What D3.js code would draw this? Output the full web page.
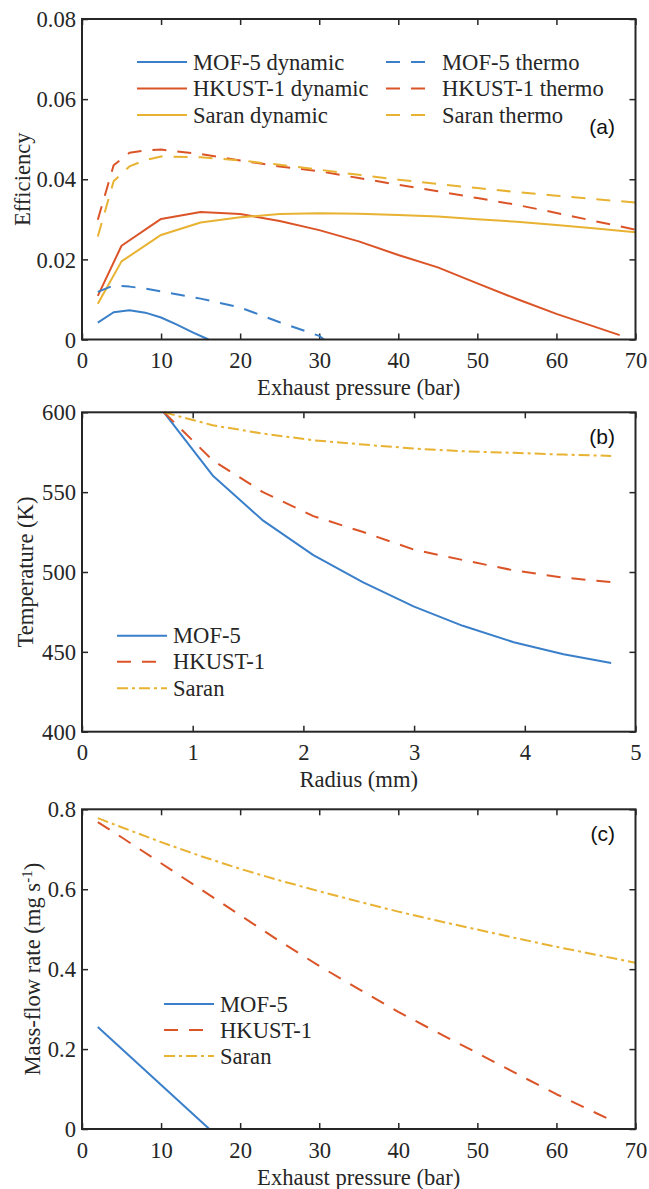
<!DOCTYPE html>
<html>
<head>
<meta charset="utf-8">
<script src="https://cdn.jsdelivr.net/npm/d3@7"></script>
<style>
  html, body { margin: 0; padding: 0; background: #fff; }
  svg { display: block; }
</style>
</head>
<body>
<svg id="fig" width="649" height="1189"></svg>
<script>
// ---- (a) efficiency vs exhaust pressure ----
const mofDynP   = [2, 4, 6, 8, 10, 12, 14, 16];
const mofDynEff = [0.0042, 0.0068, 0.0073, 0.0067, 0.0055, 0.0037, 0.0018, 0.0000];

const mofThermoP   = [2, 4, 6, 8, 10, 15, 20, 25, 30, 30.6];
const mofThermoEff = [0.0119, 0.0135, 0.0132, 0.0127, 0.0120, 0.0102, 0.0080, 0.0043, 0.0009, 0.0000];

const hkDynP   = [2, 5, 10, 15, 20, 25, 30, 35, 40, 45, 50, 55, 60, 68];
const hkDynEff = [0.0109, 0.0234, 0.0301, 0.0318, 0.0313, 0.0296, 0.0273, 0.0245, 0.0211, 0.0180, 0.0140, 0.0101, 0.0064, 0.0011];

const saranDynP   = [2, 5, 10, 15, 20, 25, 30, 35, 40, 45, 50, 55, 60, 65, 70];
const saranDynEff = [0.0089, 0.0195, 0.0261, 0.0292, 0.0305, 0.0313, 0.0315, 0.0314, 0.0311, 0.0307, 0.0300, 0.0294, 0.0286, 0.0277, 0.0268];

const thermoP        = [2, 4, 6, 8, 10, 15, 20, 25, 30, 35, 40, 45, 50, 55, 60, 65, 70];
const hkThermoEff    = [0.0299, 0.0435, 0.0466, 0.0472, 0.0474, 0.0463, 0.0447, 0.0432, 0.0420, 0.0403, 0.0386, 0.0370, 0.0353, 0.0336, 0.0316, 0.0295, 0.0274];
const saranThermoEff = [0.0257, 0.0395, 0.0432, 0.0448, 0.0457, 0.0455, 0.0447, 0.0436, 0.0424, 0.0411, 0.0399, 0.0388, 0.0378, 0.0368, 0.0359, 0.0350, 0.0342];

// ---- (b) temperature vs radius ----
const radius    = [0.74, 1.18, 1.63, 2.09, 2.54, 3.00, 3.44, 3.90, 4.35, 4.78];
const mofTemp   = [600, 560.5, 532.5, 510.6, 493.5, 478.3, 466.3, 456.0, 448.5, 443.0];
const hkTemp    = [600, 570.0, 550.2, 535.0, 525.0, 514.0, 507.5, 501.0, 496.5, 493.7];
const saranTemp = [600, 591.9, 586.7, 582.5, 579.8, 577.3, 575.6, 574.6, 573.5, 572.7];

// ---- (c) mass-flow rate vs exhaust pressure ----
const mofFlowP   = [2, 16.1];
const mofFlow    = [0.255, 0.000];
const hkFlowP    = [2, 5, 10, 15, 20, 25, 30, 35, 40, 45, 50, 55, 60, 65, 67.4];
const hkFlow     = [0.768, 0.730, 0.665, 0.600, 0.535, 0.470, 0.408, 0.350, 0.293, 0.241, 0.190, 0.138, 0.087, 0.040, 0.018];
const saranFlowP = [2, 5, 10, 15, 20, 25, 30, 35, 40, 45, 50, 55, 60, 65, 70];
const saranFlow  = [0.778, 0.755, 0.718, 0.683, 0.651, 0.622, 0.595, 0.569, 0.544, 0.521, 0.499, 0.477, 0.456, 0.436, 0.416];

// ---- tick values ----
const pressureTicks = [0, 10, 20, 30, 40, 50, 60, 70];
const effTicks      = [0, 0.02, 0.04, 0.06, 0.08];
const radiusTicks   = [0, 1, 2, 3, 4, 5];
const tempTicks     = [400, 450, 500, 550, 600];
const flowTicks     = [0, 0.2, 0.4, 0.6, 0.8];

const BLUE = "#3a7fc9", RED = "#db5428", YELLOW = "#e8b232";
const DASH = "14,11", DASHDOT = "11,4,3,4";
const FONT = 22.6;
const SERIF = '"Liberation Serif", "Times New Roman", Times, "DejaVu Serif", serif';
const SANS = '"Liberation Sans", Arial, Helvetica, sans-serif';
const INK = "#262626";

const svg = d3.select("#fig");
const zip = (xs, ys) => xs.map((x, i) => [x, ys[i]]);

function label(sel) {
  return sel.style("font-family", SERIF).style("font-size", FONT + "px").style("fill", INK);
}

function panel(o) {
  const L = 82, R = 635.5;
  const x = d3.scaleLinear().domain(o.xDomain).range([L, R]);
  const y = d3.scaleLinear().domain(o.yDomain).range([o.bottom, o.top]);
  const g = svg.append("g");
  const tick = 6;

  // ticks on all four sides, pointing inward
  const bx = g.append("g").attr("transform", `translate(0,${o.bottom})`)
    .call(d3.axisBottom(x).tickValues(o.xTicks).tickFormat(d3.format("d"))
      .tickSizeInner(-tick).tickSizeOuter(0).tickPadding(0));
  label(bx.selectAll("text").attr("y", 28.5).attr("dy", null));
  g.append("g").attr("transform", `translate(0,${o.top})`)
    .call(d3.axisTop(x).tickValues(o.xTicks).tickSizeInner(-tick).tickSizeOuter(0).tickFormat(""));
  const ly = g.append("g").attr("transform", `translate(${L},0)`)
    .call(d3.axisLeft(y).tickValues(o.yTicks).tickSizeInner(-tick).tickSizeOuter(0).tickFormat(o.yFormat));
  label(ly.selectAll("text").attr("x", -6).attr("dy", "0.34em"));
  g.append("g").attr("transform", `translate(${R},0)`)
    .call(d3.axisRight(y).tickValues(o.yTicks).tickSizeInner(-tick).tickSizeOuter(0).tickFormat(""));
  g.selectAll(".domain").remove();
  g.selectAll(".tick line").attr("stroke", INK).attr("stroke-width", 1.5);

  // data lines
  const line = d3.line().x(d => x(d[0])).y(d => y(d[1]));
  o.series.forEach(s => {
    g.append("path").datum(zip(s.x, s.y))
      .attr("d", line).attr("fill", "none")
      .attr("stroke", s.color).attr("stroke-width", 2)
      .attr("stroke-dasharray", s.dash || null)
      .attr("stroke-linejoin", "round");
  });

  // frame
  g.append("rect").attr("x", L).attr("y", o.top).attr("width", R - L).attr("height", o.bottom - o.top)
    .attr("fill", "none").attr("stroke", INK).attr("stroke-width", 2);

  // axis titles
  label(g.append("text").attr("x", (L + R) / 2).attr("y", o.bottom + 55.5)
    .attr("text-anchor", "middle")).text(o.xLabel);
  const yl = label(g.append("text")
    .attr("transform", `translate(${o.yLabelX},${(o.top + o.bottom) / 2}) rotate(-90)`)
    .attr("text-anchor", "middle"));
  o.yLabel(yl);

  // panel tag
  g.append("text").attr("x", 615).attr("y", o.tagY).attr("text-anchor", "end")
    .style("font-family", SANS).style("font-size", "21px").style("fill", "#111")
    .text(o.tag);

  // legend
  o.legend.forEach(it => {
    g.append("line").attr("x1", it.x).attr("x2", it.x + 50).attr("y1", it.y).attr("y2", it.y)
      .attr("stroke", it.color).attr("stroke-width", 2).attr("stroke-dasharray", it.dash || null);
    label(g.append("text").attr("x", it.x + 56).attr("y", it.y).attr("dy", "0.34em")).text(it.label);
  });
}

const fmt2 = d => d === 0 ? "0" : d3.format(".2f")(d);
const fmt1 = d => d === 0 ? "0" : d3.format(".1f")(d);

panel({
  top: 19, bottom: 339.5,
  xDomain: [0, 70], yDomain: [0, 0.08],
  xTicks: pressureTicks, yTicks: effTicks, yFormat: fmt2,
  xLabel: "Exhaust pressure (bar)",
  yLabelX: 30, yLabel: t => t.text("Efficiency"),
  tag: "(a)", tagY: 134,
  series: [
    { x: mofDynP, y: mofDynEff, color: BLUE },
    { x: hkDynP, y: hkDynEff, color: RED },
    { x: saranDynP, y: saranDynEff, color: YELLOW },
    { x: mofThermoP, y: mofThermoEff, color: BLUE, dash: DASH },
    { x: thermoP, y: hkThermoEff, color: RED, dash: DASH },
    { x: thermoP, y: saranThermoEff, color: YELLOW, dash: DASH }
  ],
  legend: [
    { x: 137, y: 62, color: BLUE, label: "MOF-5 dynamic" },
    { x: 137, y: 88.5, color: RED, label: "HKUST-1 dynamic" },
    { x: 137, y: 115, color: YELLOW, label: "Saran dynamic" },
    { x: 386, y: 62, color: BLUE, dash: DASH, label: "MOF-5 thermo" },
    { x: 386, y: 88.5, color: RED, dash: DASH, label: "HKUST-1 thermo" },
    { x: 386, y: 115, color: YELLOW, dash: DASH, label: "Saran thermo" }
  ]
});

panel({
  top: 412.3, bottom: 731.7,
  xDomain: [0, 5], yDomain: [400, 600],
  xTicks: radiusTicks, yTicks: tempTicks, yFormat: d3.format("d"),
  xLabel: "Radius (mm)",
  yLabelX: 33, yLabel: t => t.text("Temperature (K)"),
  tag: "(b)", tagY: 443.5,
  series: [
    { x: radius, y: mofTemp, color: BLUE },
    { x: radius, y: hkTemp, color: RED, dash: DASH },
    { x: radius, y: saranTemp, color: YELLOW, dash: DASHDOT }
  ],
  legend: [
    { x: 117, y: 635.7, color: BLUE, label: "MOF-5" },
    { x: 117, y: 661.7, color: RED, dash: DASH, label: "HKUST-1" },
    { x: 117, y: 688.3, color: YELLOW, dash: DASHDOT, label: "Saran" }
  ]
});

panel({
  top: 809.3, bottom: 1129,
  xDomain: [0, 70], yDomain: [0, 0.8],
  xTicks: pressureTicks, yTicks: flowTicks, yFormat: fmt1,
  xLabel: "Exhaust pressure (bar)",
  yLabelX: 40,
  yLabel: t => {
    t.append("tspan").text("Mass-flow rate (mg s");
    t.append("tspan").attr("dy", -8).style("font-size", "15px").text("-1");
    t.append("tspan").attr("dy", 8).text(")");
  },
  tag: "(c)", tagY: 840.5,
  series: [
    { x: mofFlowP, y: mofFlow, color: BLUE },
    { x: hkFlowP, y: hkFlow, color: RED, dash: DASH },
    { x: saranFlowP, y: saranFlow, color: YELLOW, dash: DASHDOT }
  ],
  legend: [
    { x: 164, y: 1004, color: BLUE, label: "MOF-5" },
    { x: 164, y: 1030, color: RED, dash: DASH, label: "HKUST-1" },
    { x: 164, y: 1056, color: YELLOW, dash: DASHDOT, label: "Saran" }
  ]
});
</script>
</body>
</html>
